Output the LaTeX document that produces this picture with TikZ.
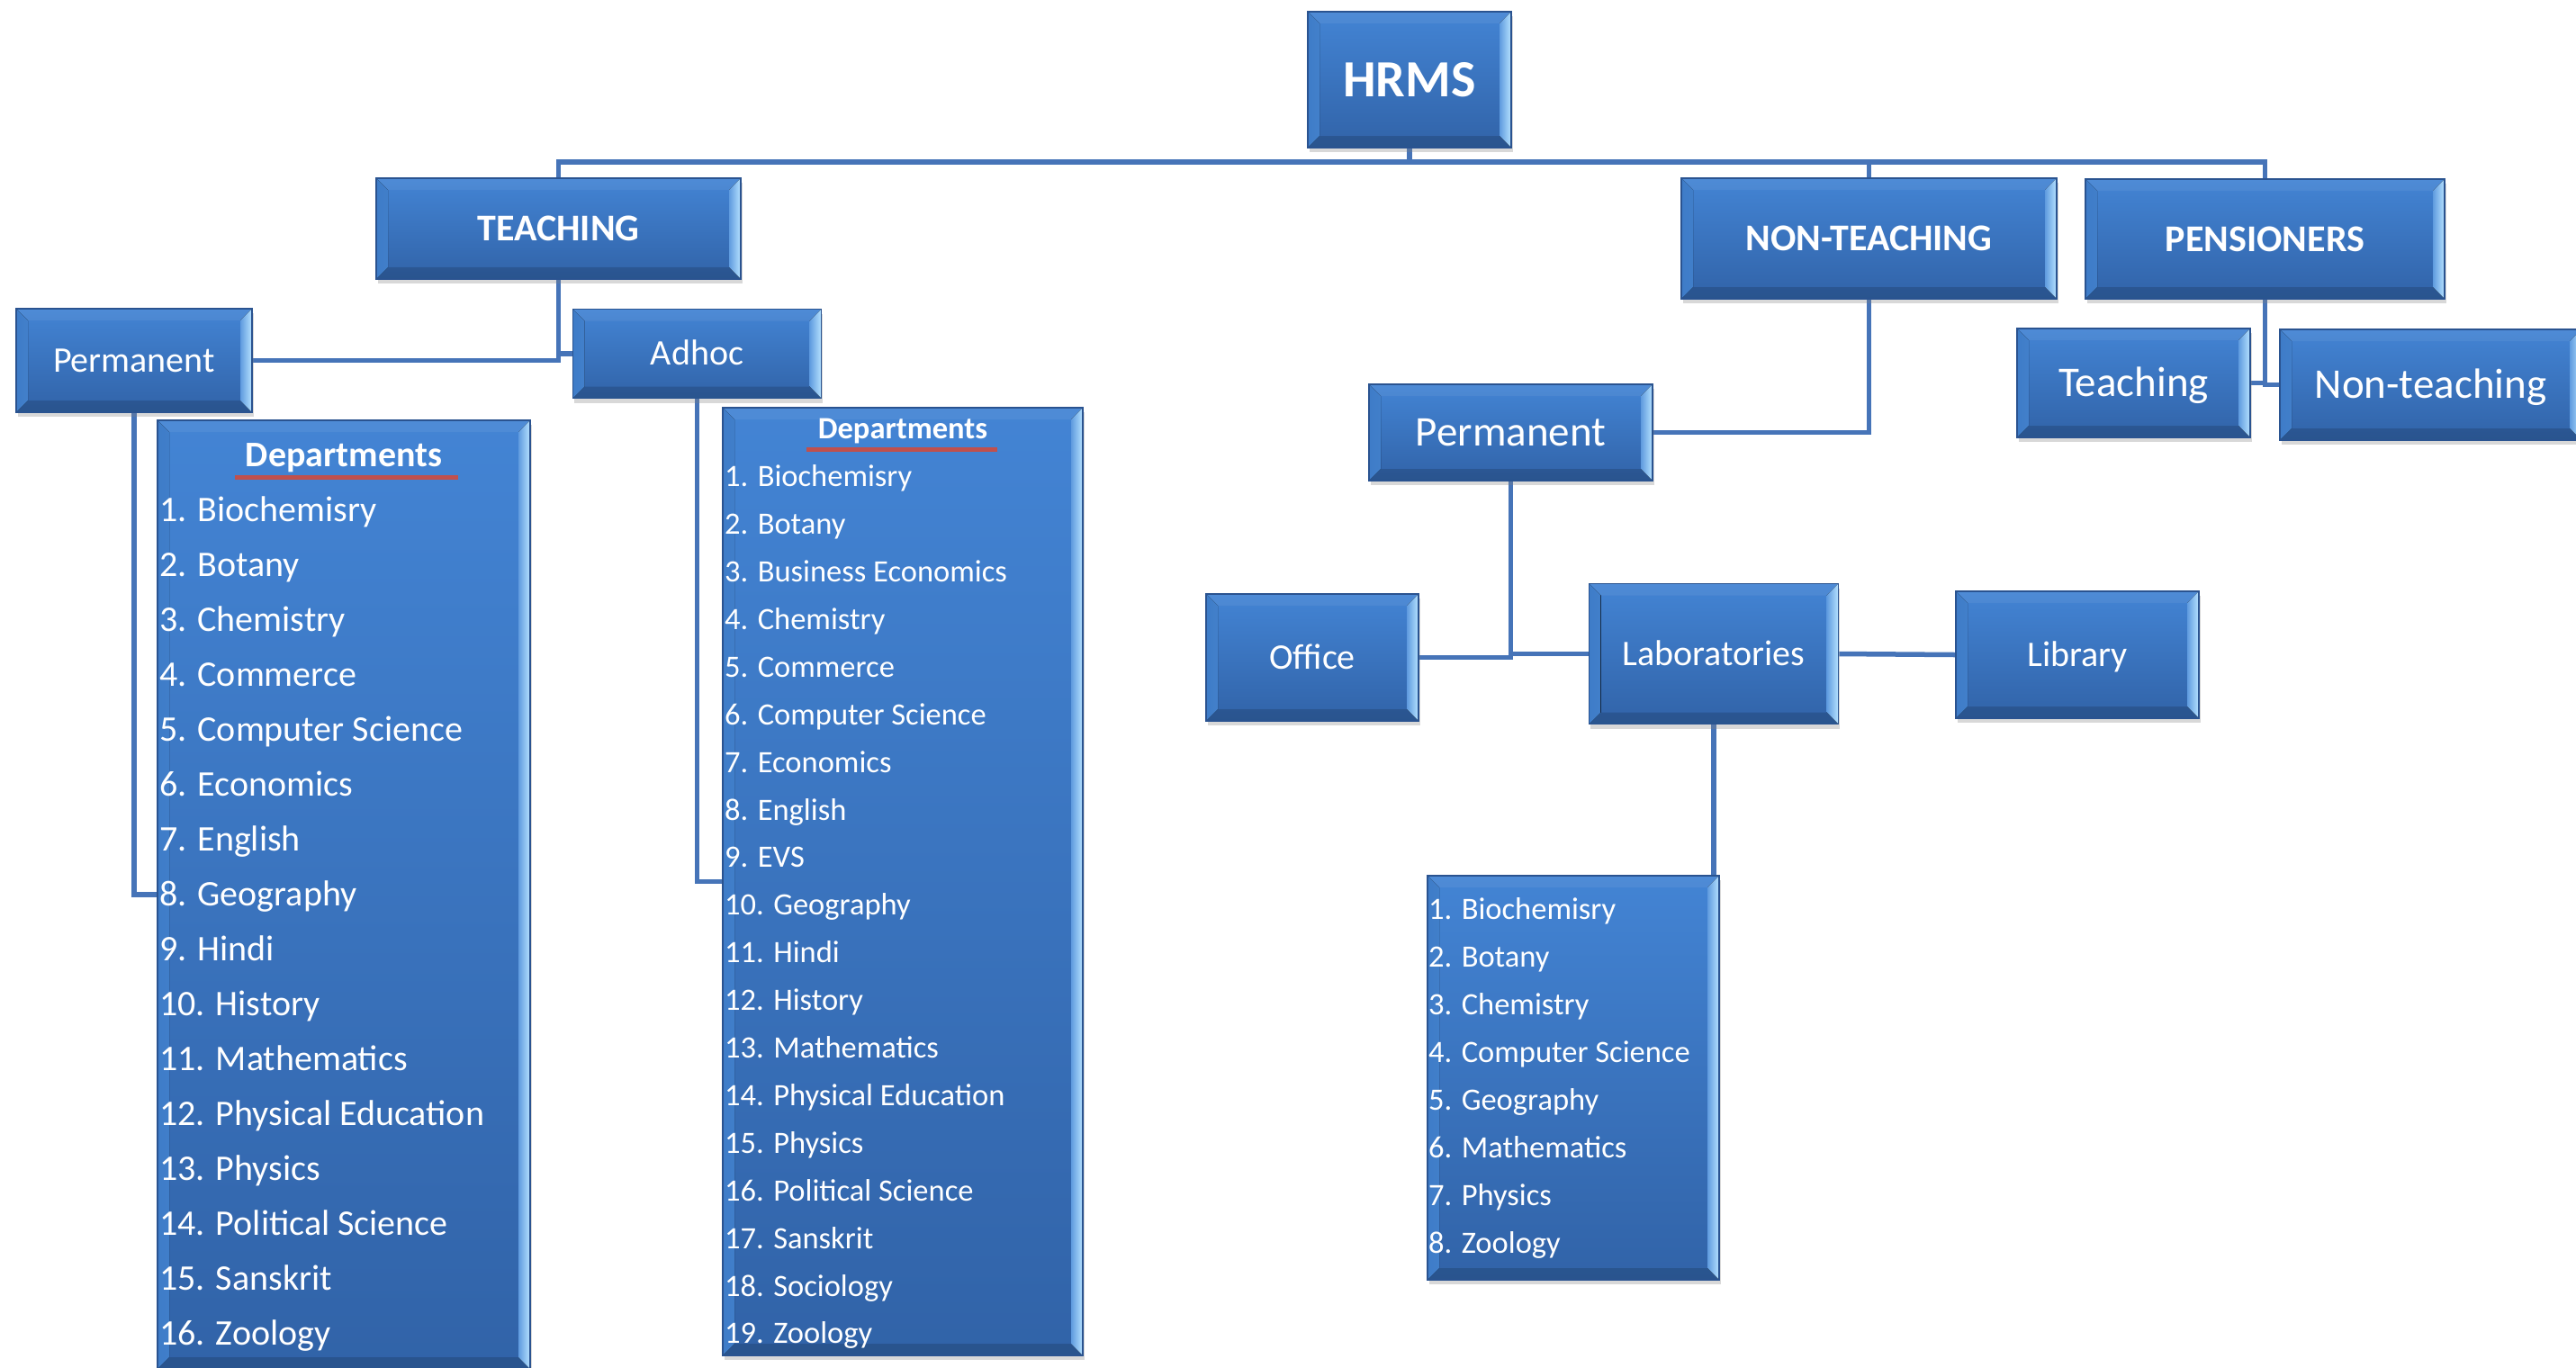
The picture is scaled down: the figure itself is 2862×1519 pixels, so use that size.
\documentclass[tikz,border=0pt]{standalone}
\usepackage{fontspec}
\setmainfont{Carlito}
\usetikzlibrary{shadows,backgrounds,calc}
\definecolor{ftop}{HTML}{4384D4}
\definecolor{fbot}{HTML}{3163A8}
\definecolor{bdr}{HTML}{2A5390}
\definecolor{lnc}{HTML}{4674B8}
\definecolor{bevlo}{HTML}{3E7CC8}
\definecolor{bevli}{HTML}{92C6F4}
\definecolor{bevri}{HTML}{5F9BDF}
\definecolor{bevro}{HTML}{B6E2FF}
\definecolor{ulred}{HTML}{C0504D}
\tikzset{
  bevbox/.style={rectangle, draw=bdr, line width=1.5pt, top color=ftop, bottom color=fbot,
    text=white, inner sep=0pt,
    drop shadow={shadow xshift=1.5pt, shadow yshift=-5pt, opacity=0.3},
    path picture={
      \fill[left color=bevlo, right color=bevli]
        (path picture bounding box.north west) -- (path picture bounding box.south west)
        -- ([shift={(13pt,13pt)}]path picture bounding box.south west)
        -- ([shift={(13pt,-13pt)}]path picture bounding box.north west) -- cycle;
      \fill[left color=bevri, right color=bevro]
        (path picture bounding box.north east) -- (path picture bounding box.south east)
        -- ([shift={(-13pt,13pt)}]path picture bounding box.south east)
        -- ([shift={(-13pt,-13pt)}]path picture bounding box.north east) -- cycle;
      \fill[white, opacity=0.06]
        (path picture bounding box.north west) -- (path picture bounding box.north east)
        -- ([shift={(-13pt,-13pt)}]path picture bounding box.north east)
        -- ([shift={(13pt,-13pt)}]path picture bounding box.north west) -- cycle;
      \fill[black, opacity=0.15]
        (path picture bounding box.south west) -- (path picture bounding box.south east)
        -- ([shift={(-13pt,13pt)}]path picture bounding box.south east)
        -- ([shift={(13pt,13pt)}]path picture bounding box.south west) -- cycle;
    }},
  fsA/.style={font=\bfseries\fontsize{58pt}{70pt}\selectfont, text height=47.5pt, text depth=10.5pt},
  fsB/.style={font=\bfseries\fontsize{42pt}{50pt}\selectfont, text height=34.5pt, text depth=7.5pt},
  fsC/.style={font=\fontsize{40pt}{48pt}\selectfont, text height=32.8pt, text depth=7.2pt},
  fsD/.style={font=\fontsize{47pt}{56pt}\selectfont, text height=38.5pt, text depth=8.5pt},
  itemA/.style={text=white, inner sep=0pt, anchor=base west, font=\fontsize{40pt}{48pt}\selectfont},
  itemB/.style={text=white, inner sep=0pt, anchor=base west, font=\fontsize{34.5pt}{42pt}\selectfont},
  headA/.style={text=white, inner sep=0pt, anchor=base, font=\bfseries\fontsize{40pt}{48pt}\selectfont},
  headB/.style={text=white, inner sep=0pt, anchor=base, font=\bfseries\fontsize{34.5pt}{42pt}\selectfont},
  conn/.style={draw=lnc, line width=5.5pt},
  uline/.style={draw=ulred, line width=5pt}
}
\begin{document}
\begin{tikzpicture}[x=1pt,y=-1pt]
\useasboundingbox (0,0) rectangle (2862,1519);

% top level
\node[bevbox, fsA, minimum width=226pt, minimum height=151pt] (hrms) at (1566,88.5) {HRMS};
\node[bevbox, fsB, minimum width=405pt, minimum height=112pt] (teach) at (620.5,254) {TEACHING};
\node[bevbox, fsB, minimum width=417pt, minimum height=134pt] (nonteach) at (2076.5,265) {NON-TEACHING};
\node[bevbox, fsB, minimum width=399pt, minimum height=133pt] (pens) at (2516.5,265.5) {PENSIONERS};

% teaching branch
\node[bevbox, fsC, minimum width=262pt, minimum height=115pt] (permT) at (149,400.5) {Permanent};
\node[bevbox, fsC, minimum width=276pt, minimum height=99pt] (adhoc) at (774.5,393) {Adhoc};
\node[bevbox, minimum width=414pt, minimum height=1054pt] (listA) at (382,994) {};
\node[bevbox, minimum width=400pt, minimum height=1053pt] (listB) at (1003,979.5) {};

% non-teaching branch
\node[bevbox, fsD, minimum width=315pt, minimum height=107pt] (permNT) at (1678.5,480.5) {Permanent};
\node[bevbox, fsC, minimum width=236pt, minimum height=141pt] (office) at (1458,730.5) {Office};
\node[bevbox, fsC, minimum width=277pt, minimum height=156pt] (labs) at (1904,726.5) {Laboratories};
\node[bevbox, fsC, minimum width=270pt, minimum height=141pt] (library) at (2308,727.5) {Library};
\node[bevbox, minimum width=324pt, minimum height=449pt] (listC) at (1748,1197.5) {};

% pensioners branch
\node[bevbox, fsD, minimum width=259pt, minimum height=121pt] (teachP) at (2370.5,425.5) {Teaching};
\node[bevbox, fsD, minimum width=335pt, minimum height=123pt] (nonteachP) at (2700.5,427.5) {Non-teaching};

% list A
\node[headA] (hA) at (382,518) {Departments};
\coordinate (uAl) at (261,530);
\coordinate (uAr) at (509,530);
\draw[uline] (uAl) -- (uAr);
\foreach \t [count=\i] in {Biochemisry,Botany,Chemistry,Commerce,Computer Science,Economics,English,Geography,Hindi,History,Mathematics,Physical Education,Physics,Political Science,Sanskrit,Zoology}
  \node[itemA] (a\i) at (177,{579.5+(\i-1)*60.97}) {\i. \t};

% list B
\node[headB] (hB) at (1003,487.5) {Departments};
\coordinate (uBl) at (896,499);
\coordinate (uBr) at (1108,499);
\draw[uline] (uBl) -- (uBr);
\foreach \t [count=\i] in {Biochemisry,Botany,Business Economics,Chemistry,Commerce,Computer Science,Economics,English,EVS,Geography,Hindi,History,Mathematics,Physical Education,Physics,Political Science,Sanskrit,Sociology,Zoology}
  \node[itemB] (b\i) at (805,{540.7+(\i-1)*52.9}) {\i. \t};

% list C
\foreach \t [count=\i] in {Biochemisry,Botany,Chemistry,Computer Science,Geography,Mathematics,Physics,Zoology}
  \node[itemB] (c\i) at (1587,{1021.5+(\i-1)*53.0}) {\i. \t};

\begin{scope}[on background layer]
\fill[white] (0,0) rectangle (2862,1519);
\draw[conn] (hrms.south) -- ++(0,15) -| (teach.north);
\draw[conn] (hrms.south) -- ++(0,15) -| (nonteach.north);
\draw[conn] (hrms.south) -- ++(0,15) -| (pens.north);
\draw[conn] (teach.south) |- (permT.east);
\draw[conn] (teach.south) |- (adhoc.west);
\draw[conn] (permT.south) |- (listA.west);
\draw[conn] (adhoc.south) |- (listB.west);
\draw[conn] (nonteach.south) |- (permNT.east);
\draw[conn] (pens.south) |- (teachP.east);
\draw[conn] (pens.south) |- (nonteachP.west);
\draw[conn] (permNT.south) |- (office.east);
\draw[conn] (permNT.south) |- (labs.west);
\draw[conn] (labs.east) -- (library.west);
\draw[conn] (labs.south) |- (listC.east);
\end{scope}
\end{tikzpicture}
\end{document}
